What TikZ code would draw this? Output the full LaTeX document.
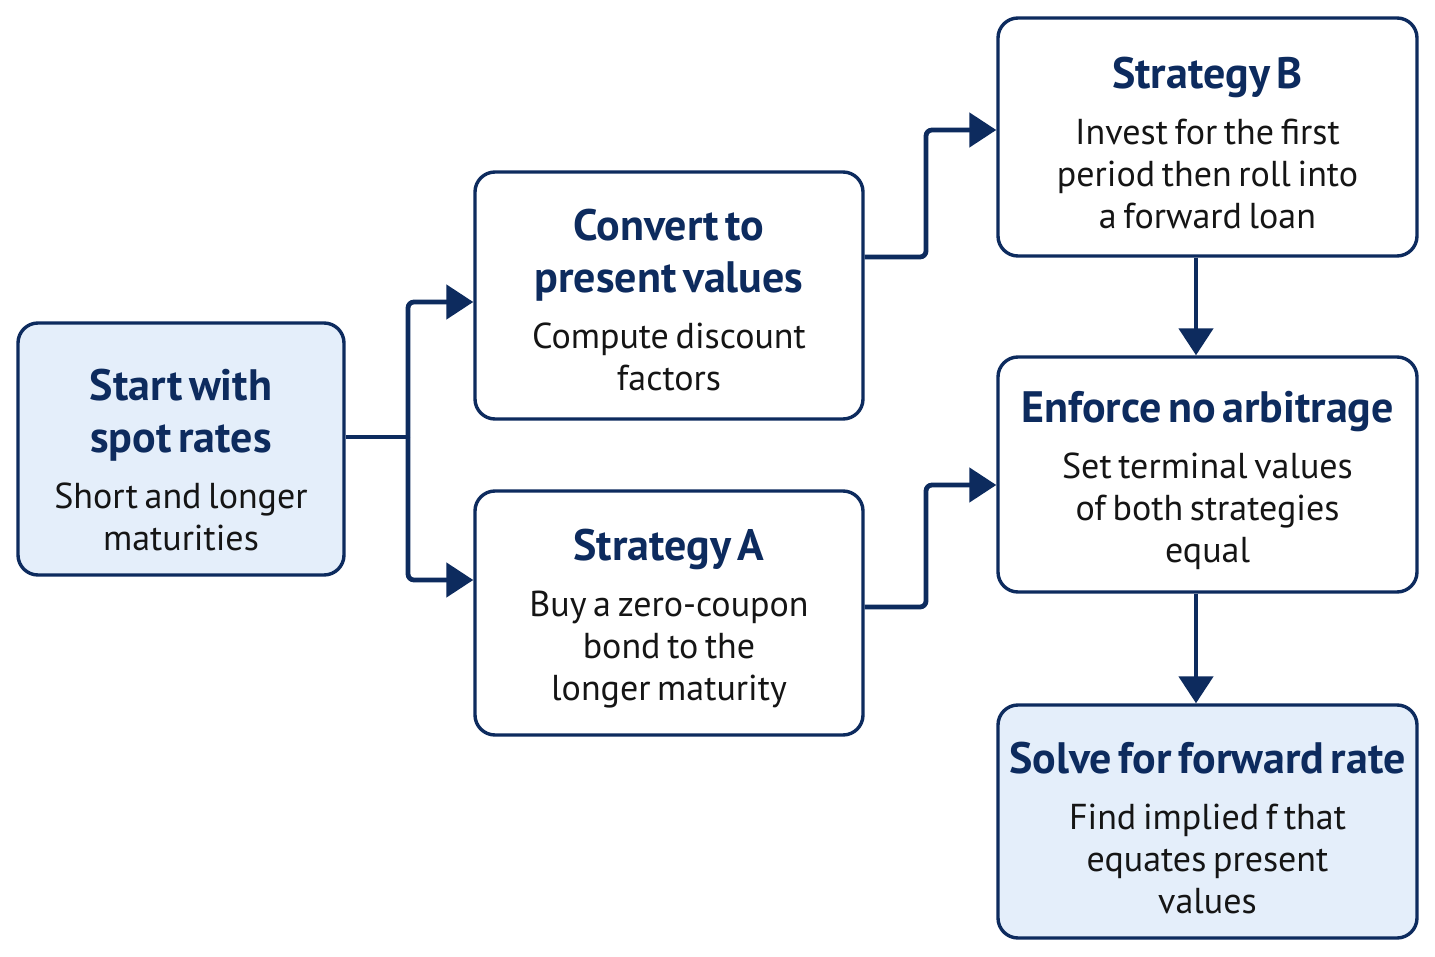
\documentclass[tikz,border=0pt]{standalone}
\usepackage{fontspec}
\setmainfont{PT Sans}
\usetikzlibrary{arrows.meta}
\definecolor{navy}{HTML}{0D2B5E}
\definecolor{lightfill}{HTML}{E4EEFA}
\definecolor{bodytext}{HTML}{151515}
\newcommand{\boxtitle}{\fontsize{22}{26}\selectfont\bfseries\color{navy}}
\newcommand{\boxbody}{\par\vspace{7pt}\fontsize{18}{21}\selectfont\mdseries\color{bodytext}}
\tikzset{
  card/.style={draw=navy, line width=1.7pt, rounded corners=10pt, fill=white, inner sep=0pt},
  hicard/.style={card, fill=lightfill},
  txt/.style={align=center, inner sep=0pt, text width=205pt},
  conn/.style={draw=navy, line width=2.4pt, rounded corners=3pt},
  arr/.style={conn, -{Triangle[length=13.5pt,width=17pt]}},
}
\begin{document}
\begin{tikzpicture}[x=0.5pt,y=-0.5pt]
\useasboundingbox[fill=white] (0,0) rectangle (1435,957);
\node[hicard, minimum width=163pt, minimum height=126pt] (start) at (181,449) {};
\node[txt] (startt) at ([yshift=-5.5pt]start.center)
  {\boxtitle Start with\\spot rates\boxbody Short and longer\\maturities\par};
\node[card, minimum width=194pt, minimum height=123.5pt] (conv) at (669,295.5) {};
\node[txt] (convt) at ([yshift=-2.5pt]conv.center)
  {\boxtitle Convert to\\present values\boxbody Compute discount\\factors\par};
\node[card, minimum width=194pt, minimum height=122pt] (stra) at (669,613) {};
\node[txt] (strat) at ([yshift=-3pt]stra.center)
  {\boxtitle Strategy A\boxbody Buy a zero-coupon\\bond to the\\longer maturity\par};
\node[card, minimum width=209.5pt, minimum height=119pt] (strb) at (1207.5,137) {};
\node[txt] (strbt) at ([yshift=-3pt]strb.center)
  {\boxtitle Strategy B\boxbody Invest for the first\\period then roll into\\a forward loan\par};
\node[card, minimum width=209.5pt, minimum height=117.5pt] (enf) at (1207.5,474.5) {};
\node[txt] (enft) at ([yshift=-3pt]enf.center)
  {\boxtitle Enforce no arbitrage\boxbody Set terminal values\\of both strategies\\equal\par};
\node[hicard, minimum width=209.5pt, minimum height=116.5pt] (solve) at (1207.5,821.5) {};
\node[txt] (solvet) at ([yshift=-3.5pt]solve.center)
  {\boxtitle Solve for forward rate\boxbody Find implied f that\\equates present\\values\par};
\coordinate (split) at (408,437);
\draw[conn] (start.east |- 0,437) -- (split);
\draw[arr] (split) -- (408,302) -- (conv.west |- 0,302);
\draw[arr] (split) -- (408,580) -- (stra.west |- 0,580);
\draw[arr] (conv.east |- 0,257) -- (926,257) -- (926,130) -- (strb.west |- 0,130);
\draw[arr] (stra.east |- 0,607) -- (926,607) -- (926,485) -- (enf.west |- 0,485);
\draw[arr] (strb.south -| 1196,0) -- (enf.north -| 1196,0);
\draw[arr] (enf.south -| 1196,0) -- (solve.north -| 1196,0);
\end{tikzpicture}
\end{document}
